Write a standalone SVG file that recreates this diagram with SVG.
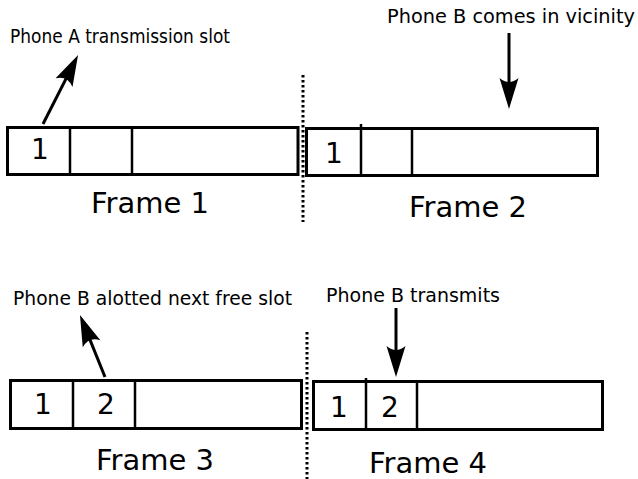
<svg xmlns="http://www.w3.org/2000/svg" width="638" height="479" viewBox="0 0 638 479">
<style>
.frame{fill:#fff;stroke:#000;stroke-width:3}
.div{stroke:#000;stroke-width:2.5}
.dig{font-family:"DejaVu Sans",sans-serif;font-size:28px;text-anchor:middle;fill:#000}
.lbl{font-family:"DejaVu Sans",sans-serif;font-size:29px;text-anchor:middle;fill:#000}
.note{font-family:"DejaVu Sans",sans-serif;font-size:19px;fill:#000}
.arr{stroke:#000;stroke-width:3;fill:none;marker-end:url(#ah)}
.dot{stroke:#000;stroke-width:3;stroke-dasharray:2.5 2.5}
</style>
<defs>
<marker id="ah" markerUnits="userSpaceOnUse" markerWidth="40" markerHeight="30" refX="0" refY="0" viewBox="-10 -12 40 24" orient="auto" overflow="visible">
<path d="M22,0 L-9,-9.5 Q-1,0 -9,9.5 Z" fill="#000"/>
</marker>
</defs>
<rect width="638" height="479" fill="#fff"/>
<g id="frame1">
<rect class="frame" x="7.5" y="127.5" width="290.5" height="47"/>
<line class="div" x1="70" y1="127" x2="70" y2="175"/>
<line class="div" x1="132" y1="127" x2="132" y2="175"/>
<text class="dig" x="40" y="159">1</text>
<text class="lbl" x="150" y="213">Frame 1</text>
</g>
<g id="frame2">
<rect class="frame" x="306.5" y="128.5" width="291" height="47"/>
<line class="div" x1="361" y1="124" x2="361" y2="176"/>
<line class="div" x1="412" y1="128" x2="412" y2="176"/>
<text class="dig" x="334" y="163">1</text>
<text class="lbl" x="468" y="217">Frame 2</text>
</g>
<g id="frame3">
<rect class="frame" x="10.5" y="380.5" width="291" height="48"/>
<line class="div" x1="73" y1="380" x2="73" y2="429"/>
<line class="div" x1="135" y1="380" x2="135" y2="429"/>
<text class="dig" x="43" y="414">1</text>
<text class="dig" x="106" y="414">2</text>
<text class="lbl" x="155" y="470">Frame 3</text>
</g>
<g id="frame4">
<rect class="frame" x="313.5" y="381.5" width="289" height="48"/>
<line class="div" x1="366" y1="378" x2="366" y2="430"/>
<line class="div" x1="417" y1="381" x2="417" y2="430"/>
<text class="dig" x="339" y="417">1</text>
<text class="dig" x="390" y="417">2</text>
<text class="lbl" x="428" y="473">Frame 4</text>
</g>
<g id="note1"><text class="note" x="10" y="43" textLength="220" lengthAdjust="spacingAndGlyphs">Phone A transmission slot</text></g>
<g id="note2"><text class="note" x="387" y="23" textLength="248" lengthAdjust="spacingAndGlyphs">Phone B comes in vicinity</text></g>
<g id="note3"><text class="note" x="13" y="305" textLength="279" lengthAdjust="spacingAndGlyphs">Phone B alotted next free slot</text></g>
<g id="note4"><text class="note" x="326" y="302" textLength="174" lengthAdjust="spacingAndGlyphs">Phone B transmits</text></g>
<g id="connectors">
<line class="dot" x1="303" y1="75" x2="303" y2="222"/>
<line class="dot" x1="307" y1="332" x2="307" y2="479"/>
<line class="arr" x1="43" y1="124" x2="68.1" y2="74.6"/>
<line class="arr" x1="509" y1="33" x2="509" y2="87"/>
<line class="arr" x1="105" y1="377" x2="88.2" y2="335.4"/>
<line class="arr" x1="396" y1="308" x2="396" y2="355"/>
</g>
</svg>
